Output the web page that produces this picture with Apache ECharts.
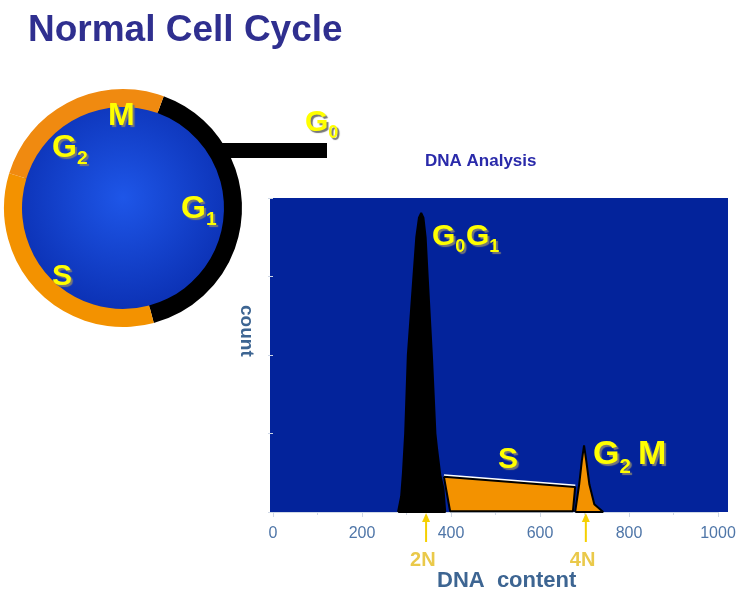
<!DOCTYPE html>
<html>
<head>
<meta charset="utf-8">
<script src="https://cdn.jsdelivr.net/npm/echarts@6/dist/echarts.min.js"></script>
<style>html,body{margin:0;padding:0;background:#fff}#main{width:742px;height:599px}</style>
</head>
<body>
<div id="main"></div>
<script>
// histogram outlines (DNA content, count)
var g0g1 = [[281,0],[288,20],[292,50],[297,100],[303,200],[315,295],[322,350],[328,375],[333,381],[338,375],[343,350],[348,295],[357,200],[365,100],[369,79],[376,47],[383,30],[387,0]];
var sPhase = [[384,45],[679,32],[674,1],[398,1]];
var g2m = [[679,0],[688,35],[694,65],[699,85],[704,65],[711,35],[722,10],[742,0]];

var yel = '#FFFF00';
var shadow = {textShadowColor:'#777', textShadowBlur:1, textShadowOffsetX:2, textShadowOffsetY:2};
function lbl(x, y, main, sub, size) {
    return {type:'text', left:x, top:y, z:20, style: Object.assign({
        text: '{a|' + main + '}' + (sub ? '{b|' + sub + '}' : ''),
        rich: {a:{fontSize:size, fontWeight:'bold', fill:yel, fontFamily:'Liberation Sans'},
               b:{fontSize:size*0.6, fontWeight:'bold', fill:yel, verticalAlign:'bottom', padding:[size*0.7,0,0,0], fontFamily:'Liberation Sans'}}
    }, shadow)};
}
function polySeries(name, data, color, stroke) {
    return {
        name: name, type:'line', data: data.concat([data[0]]),
        symbol:'none', lineStyle:{color:stroke, width:2},
        areaStyle:{color:color, opacity:1}, silent:true
    };
}

var cx = 123, cy = 208, r = 119, r0 = 101, d = Math.PI/180;
var option = {
    animation:false,
    grid:{left:273, right:24, top:198, bottom:87},
    xAxis:{type:'value', min:0, max:1000, interval:200,
        axisLine:{lineStyle:{color:'#cfd8e6'}}, axisTick:{lineStyle:{color:'#cfd8e6'}},
        minorTick:{show:true, splitNumber:2, lineStyle:{color:'#cfd8e6'}},
        splitLine:{show:false},
        axisLabel:{color:'#4F76A8', fontSize:16, margin:14, fontFamily:'Liberation Sans', formatter:function (v) { return String(v); }}},
    yAxis:{type:'value', min:0, max:400, interval:100,
        axisLine:{show:false}, axisTick:{show:true, lineStyle:{color:'#cfd8e6'}},
        axisLabel:{show:false}, splitLine:{show:false}},
    series:[
        {type:'line', data:[[384,45],[679,32]], symbol:'none', lineStyle:{color:'#fff', width:5}, z:1, silent:true},
        polySeries('S', sPhase, '#F39200', '#000'),
        polySeries('G0G1', g0g1, '#000', '#000'),
        polySeries('G2M', g2m, '#F39200', '#000')
    ],
    graphic:[
        {type:'rect', z:-10, shape:{x:270, y:198, width:458, height:314}, style:{fill:'#03239B'}},
        {type:'text', left:28, top:12, style:{text:'Normal Cell Cycle', fontSize:37, fontWeight:'bold', fill:'#2F2F8F', fontFamily:'Liberation Sans'}},
        {type:'text', left:425, top:153, style:Object.assign({text:'DNA Analysis', fontSize:17, fontWeight:'bold', fill:'#2A2AAA', fontFamily:'Liberation Sans'}, {textShadowColor:'#999', textShadowOffsetX:2, textShadowOffsetY:2})},
        {type:'rect', shape:{x:222, y:143, width:105, height:15}, style:{fill:'#000'}},
        {type:'circle', shape:{cx:cx, cy:cy, r:r0+2}, style:{fill:{type:'radial', x:0.5, y:0.45, r:0.6,
            colorStops:[{offset:0, color:'#1E56E8'}, {offset:1, color:'#0A2EB0'}]}}},
        {type:'sector', shape:{cx:cx, cy:cy, r:r, r0:r0, startAngle:-70*d, endAngle:75*d}, style:{fill:'#000'}},
        {type:'sector', shape:{cx:cx, cy:cy, r:r, r0:r0, startAngle:75*d, endAngle:197*d}, style:{fill:'#F39200'}},
        {type:'sector', shape:{cx:cx, cy:cy, r:r, r0:r0, startAngle:197*d, endAngle:290*d}, style:{fill:'#F08A10'}},
        {type:'text', left:237, top:305, rotation:-Math.PI/2, style:{text:'count', fontSize:19, fontWeight:'bold', fill:'#3D6592', fontFamily:'Liberation Sans'}},
        {type:'text', left:437, top:570, style:{text:'DNA  content', fontSize:22, fontWeight:'bold', fill:'#3D6592', fontFamily:'Liberation Sans'}},
        lbl(108, 100, 'M', '', 32),
        lbl(52, 132, 'G', '2', 32),
        lbl(181, 193, 'G', '1', 32),
        lbl(52, 262, 'S', '', 30),
        lbl(305, 108, 'G', '0', 30),
        lbl(432, 222, 'G', '0', 30),
        lbl(466, 222, 'G', '1', 30),
        lbl(498, 445, 'S', '', 30),
        lbl(593, 438, 'G', '2', 34),
        lbl(638, 438, 'M', '', 34)
    ]
};

var myChart = echarts.init(document.getElementById('main'));
myChart.setOption(option);

// 2N / 4N arrows under the axis
var marks = [['2N', 344], ['4N', 703]];
var extra = [];
marks.forEach(function (m) {
    var p = myChart.convertToPixel({gridIndex:0}, [m[1], 0]);
    extra.push({type:'line', shape:{x1:p[0], y1:p[1]+30, x2:p[0], y2:p[1]+4}, style:{stroke:'#F5D000', lineWidth:2}, z:30});
    extra.push({type:'polygon', shape:{points:[[p[0]-4, p[1]+10], [p[0]+4, p[1]+10], [p[0], p[1]+1]]}, style:{fill:'#F5D000'}, z:30});
    extra.push({type:'text', left:p[0]-16, top:p[1]+38, z:30, style:{text:m[0], fontSize:20, fontWeight:'bold', fill:'#EAC94A', fontFamily:'Liberation Sans', textShadowColor:'#999', textShadowOffsetX:1, textShadowOffsetY:1}});
});
myChart.setOption({graphic: option.graphic.concat(extra)});
</script>
</body>
</html>
